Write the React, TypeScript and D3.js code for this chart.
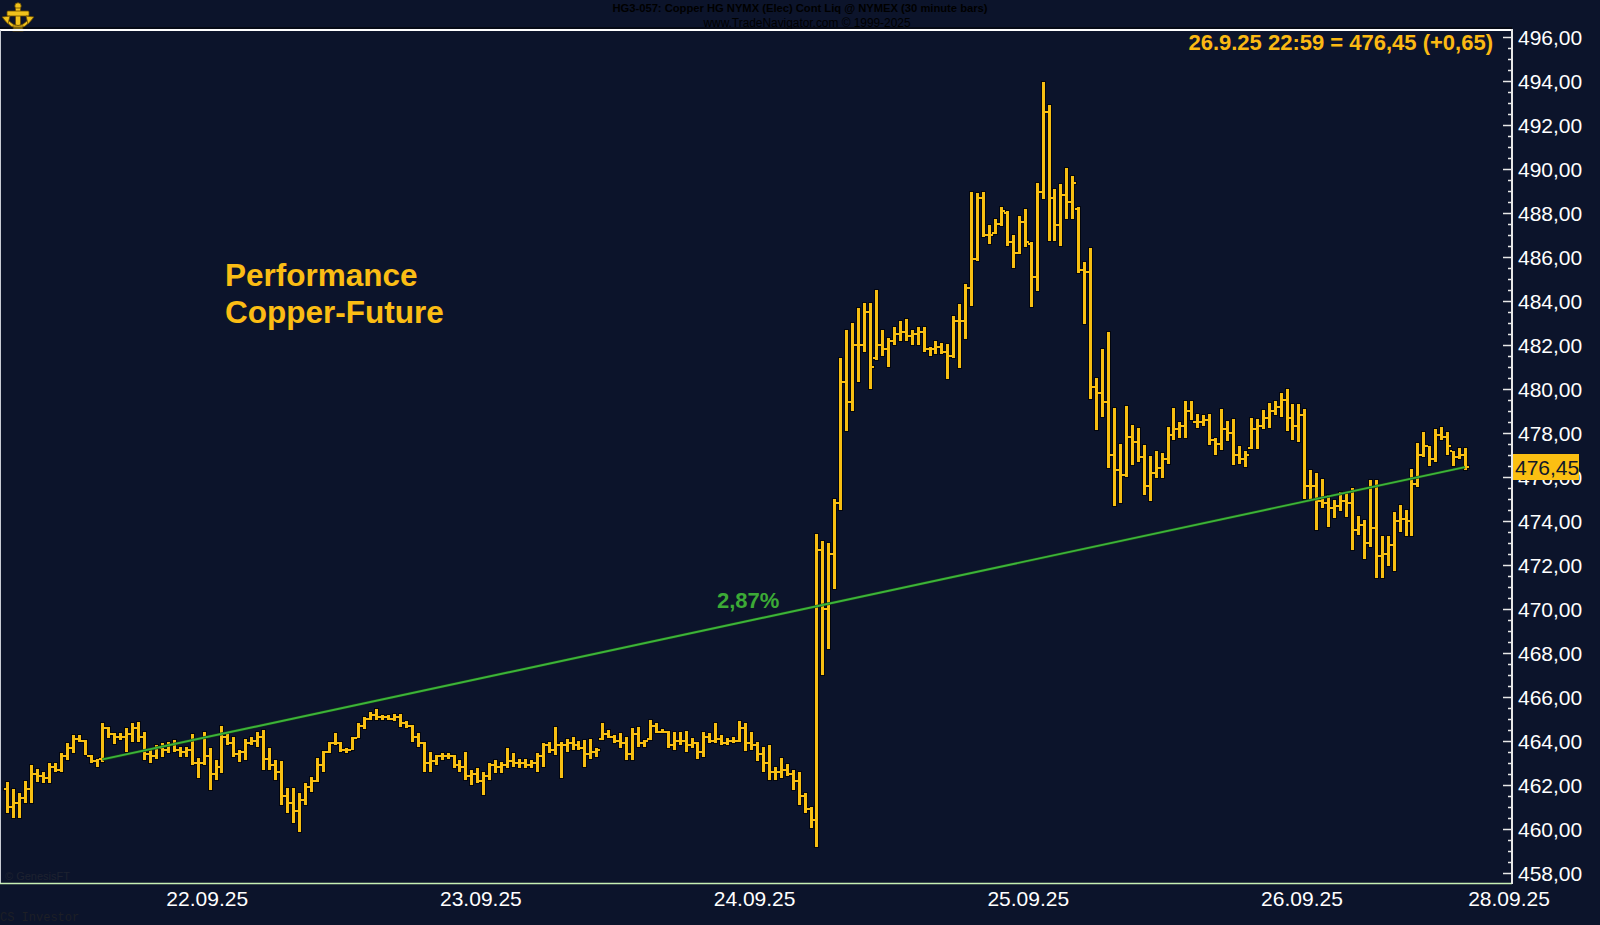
import React from "react";
import * as d3 from "d3";

const highs = [
  462.14, 461.8, 461.62, 462.18, 462.91, 462.73, 462.6, 462.98, 462.98, 463.44,
  463.9, 464.27, 464.27, 464.05, 463.36, 463.2, 464.8, 464.65, 464.38, 464.35,
  464.58, 464.8, 464.85, 464.42, 463.59, 463.82, 463.92, 463.97, 464.05, 463.74,
  463.74, 464.32, 463.21, 464.42, 463.67, 463.14, 464.68, 464.35, 464.2, 463.59,
  464.08, 464.2, 464.42, 464.5, 463.67, 463.14, 463.1, 461.85, 461.85, 461.62,
  462.08, 462.38, 463.21, 463.56, 463.97, 464.35, 463.97, 463.67, 464.2, 464.83,
  465.1, 465.3, 465.44, 465.2, 465.2, 465.25, 465.25, 464.9, 464.73, 464.35,
  463.97, 463.51, 463.36, 463.46, 463.46, 463.36, 463.14, 463.51, 462.68, 462.76,
  462.6, 463.02, 463.14, 463.06, 463.67, 463.44, 463.2, 463.2, 463.15, 463.44,
  463.9, 463.97, 464.62, 463.97, 464.08, 464.17, 464.02, 464.05, 464.08, 463.67,
  464.8, 464.5, 464.27, 464.35, 464.2, 464.58, 464.65, 464.05, 464.95, 464.8,
  464.53, 464.47, 464.42, 464.42, 464.47, 464.12, 463.97, 464.42, 464.38, 464.8,
  464.27, 464.12, 464.2, 464.92, 464.83, 464.39, 463.97, 463.74, 463.82, 462.83,
  463.21, 462.95, 462.68, 462.6, 461.62, 461.01, 473.4, 473.1, 473.0, 475.0,
  481.4, 482.7, 483.0, 483.7, 483.9, 483.9, 484.5, 482.7, 482.3, 482.8,
  483.1, 483.2, 482.7, 482.8, 482.8, 481.9, 482.2, 482.1, 482.03, 483.33,
  483.85, 484.76, 488.94, 488.9, 488.94, 487.45, 487.71, 488.26, 488.08, 487.0,
  487.86, 488.17, 486.67, 489.35, 493.94, 492.9, 489.08, 489.3, 490.03, 489.68,
  488.26, 485.79, 486.4, 480.5, 481.8, 482.6, 479.12, 477.5, 479.24, 478.35,
  478.21, 477.45, 476.95, 477.18, 477.1, 478.26, 479.12, 478.51, 479.47, 479.47,
  478.86, 478.8, 478.86, 477.76, 479.08, 478.55, 478.62, 477.41, 477.2, 478.7,
  478.62, 479.05, 479.35, 479.47, 479.8, 480.0, 479.3, 479.3, 479.1, 476.32,
  476.17, 475.91, 475.18, 474.95, 475.33, 475.27, 475.51, 474.24, 474.05, 475.86,
  475.86, 473.33, 473.3, 474.42, 474.73, 474.5, 476.35, 477.53, 478.06, 477.4,
  478.2, 478.26, 478.06, 477.2, 477.3, 477.3,
];

const lows = [
  460.71, 460.49, 460.49, 461.17, 461.17, 462.15, 462.08, 462.08, 462.6, 462.6,
  463.14, 463.44, 463.97, 463.36, 463.01, 462.84, 463.03, 464.12, 463.86, 464.05,
  463.52, 463.97, 463.97, 463.14, 462.98, 463.2, 463.29, 463.44, 463.52, 463.29,
  463.29, 462.91, 462.3, 462.91, 461.77, 462.23, 462.53, 463.82, 463.29, 463.06,
  463.14, 463.82, 463.74, 462.68, 462.68, 462.23, 461.09, 460.71, 460.26, 459.88,
  461.09, 461.7, 462.15, 462.61, 463.44, 463.82, 463.51, 463.44, 463.59, 464.12,
  464.53, 464.95, 464.95, 464.95, 464.95, 464.9, 464.65, 464.6, 463.97, 463.74,
  462.61, 462.61, 462.91, 463.14, 463.2, 462.76, 462.61, 462.23, 462.0, 462.08,
  461.55, 462.23, 462.53, 462.53, 462.76, 462.83, 462.76, 462.76, 462.76, 462.6,
  462.83, 463.44, 463.36, 462.3, 463.51, 463.59, 463.59, 462.8, 463.2, 463.29,
  464.05, 464.12, 463.9, 463.67, 463.14, 463.14, 463.74, 463.74, 464.05, 464.35,
  464.35, 463.67, 463.59, 463.82, 463.51, 463.67, 463.2, 463.29, 463.9, 463.9,
  463.82, 463.82, 463.9, 463.97, 463.56, 463.59, 463.11, 462.61, 462.23, 462.23,
  462.3, 462.41, 461.77, 461.09, 460.71, 460.03, 459.2, 467.0, 468.2, 470.9,
  474.5, 478.1, 479.0, 480.3, 481.7, 480.0, 481.3, 481.5, 481.0, 482.0,
  482.2, 482.2, 482.0, 482.0, 481.7, 481.5, 481.6, 481.6, 480.44, 481.39,
  480.94, 482.26, 483.77, 485.83, 486.9, 486.58, 487.03, 487.42, 486.51, 485.48,
  486.12, 486.44, 483.74, 484.45, 488.64, 486.74, 486.74, 486.51, 487.71, 487.71,
  485.26, 482.95, 479.55, 478.14, 478.74, 476.39, 474.68, 474.8, 476.01, 476.53,
  476.7, 475.18, 474.9, 475.94, 475.94, 476.58, 477.68, 477.79, 477.79, 478.59,
  478.21, 478.3, 477.45, 477.0, 477.23, 477.64, 476.55, 476.6, 476.47, 477.26,
  477.26, 478.2, 478.21, 478.82, 478.74, 478.1, 477.7, 477.6, 474.98, 474.98,
  473.59, 474.58, 473.74, 474.15, 474.45, 474.2, 472.68, 473.36, 472.27, 472.83,
  471.39, 471.39, 471.97, 471.74, 473.51, 473.3, 473.3, 475.53, 476.92, 476.5,
  476.7, 477.7, 477.0, 476.5, 476.8, 476.3,
];

const opens = [
  461.8, 461.0, 461.2, 461.4, 461.8, 462.5, 462.4, 462.3, 462.8, 462.7,
  463.3, 463.7, 464.1, 464.0, 463.3, 463.1, 463.16, 464.6, 464.3, 464.2,
  464.2, 464.3, 464.6, 464.2, 463.4, 463.3, 463.7, 463.6, 463.8, 463.6,
  463.5, 463.6, 463.0, 463.0, 463.3, 462.5, 462.8, 464.2, 463.9, 463.4,
  463.5, 463.9, 464.0, 464.2, 463.2, 462.9, 462.6, 461.5, 461.2, 460.8,
  461.3, 461.9, 462.2, 462.9, 463.5, 463.9, 463.9, 463.6, 463.6, 464.15,
  464.7, 465.0, 465.2, 465.1, 465.1, 465.0, 465.1, 464.8, 464.7, 464.2,
  463.9, 463.0, 463.1, 463.3, 463.3, 463.3, 462.9, 462.8, 462.4, 462.5,
  462.2, 462.4, 462.9, 462.8, 462.9, 463.1, 463.0, 463.0, 462.9, 463.0,
  463.3, 463.8, 463.6, 463.8, 463.8, 463.9, 463.8, 463.7, 463.4, 463.5,
  464.1, 464.3, 464.2, 464.0, 463.9, 463.4, 464.3, 463.9, 464.1, 464.7,
  464.4, 464.4, 463.8, 464.0, 464.0, 463.8, 463.9, 463.5, 464.2, 464.0,
  464.1, 463.9, 464.0, 464.0, 464.6, 463.9, 463.8, 463.4, 463.0, 462.6,
  462.6, 462.7, 462.5, 462.2, 461.5, 460.9, 460.4, 472.7, 470.0, 472.5,
  474.8, 480.3, 479.4, 482.0, 482.0, 483.5, 481.4, 482.0, 481.8, 482.2,
  482.5, 482.6, 482.4, 482.5, 482.6, 481.8, 481.8, 481.9, 481.7, 481.5,
  483.1, 483.1, 484.6, 485.9, 488.7, 487.0, 487.1, 487.5, 488.0, 486.7,
  486.2, 487.6, 486.6, 485.1, 488.97, 492.6, 488.7, 487.45, 488.8, 488.5,
  488.2, 485.4, 485.3, 480.1, 479.8, 479.4, 477.0, 476.3, 476.1, 477.8,
  477.6, 476.9, 475.6, 476.2, 476.4, 476.8, 477.9, 478.2, 478.3, 479.0,
  478.5, 478.5, 478.6, 477.7, 477.5, 478.2, 478.0, 477.0, 476.8, 477.3,
  478.2, 478.3, 478.7, 479.0, 479.2, 479.5, 478.7, 478.3, 478.8, 475.6,
  475.6, 474.9, 474.8, 474.6, 474.7, 474.9, 474.8, 473.6, 473.8, 473.0,
  473.7, 472.4, 472.5, 472.9, 474.0, 474.1, 474.0, 475.7, 477.0, 477.4,
  476.8, 477.9, 477.8, 477.2, 476.9, 477.0,
];

const closes = [
  461.0, 461.2, 461.4, 461.8, 462.5, 462.4, 462.3, 462.8, 462.7, 463.3,
  463.7, 464.1, 464.0, 463.3, 463.1, 463.16, 464.6, 464.3, 464.2, 464.2,
  464.3, 464.6, 464.2, 463.4, 463.3, 463.7, 463.6, 463.8, 463.6, 463.5,
  463.6, 463.0, 463.0, 463.3, 462.5, 462.8, 464.2, 463.9, 463.4, 463.5,
  463.9, 464.0, 464.2, 463.2, 462.9, 462.6, 461.5, 461.2, 460.8, 461.3,
  461.9, 462.2, 462.9, 463.5, 463.9, 463.9, 463.6, 463.6, 464.15, 464.7,
  465.0, 465.2, 465.1, 465.1, 465.0, 465.1, 464.8, 464.7, 464.2, 463.9,
  463.0, 463.1, 463.3, 463.3, 463.3, 462.9, 462.8, 462.4, 462.5, 462.2,
  462.4, 462.9, 462.8, 462.9, 463.1, 463.0, 463.0, 462.9, 463.0, 463.3,
  463.8, 463.6, 463.8, 463.8, 463.9, 463.8, 463.7, 463.4, 463.5, 463.6,
  464.3, 464.2, 464.0, 463.9, 463.4, 464.3, 463.9, 464.0, 464.7, 464.4,
  464.4, 463.8, 464.0, 464.0, 463.8, 463.9, 463.5, 464.2, 464.0, 464.1,
  463.9, 464.0, 464.0, 464.6, 463.9, 463.8, 463.4, 463.0, 462.6, 462.6,
  462.7, 462.5, 462.2, 461.5, 460.9, 460.4, 472.7, 470.0, 472.5, 474.8,
  480.3, 479.4, 482.0, 482.0, 483.5, 481.0, 482.0, 481.8, 482.2, 482.5,
  482.6, 482.4, 482.5, 482.6, 481.8, 481.8, 481.9, 481.7, 481.5, 483.1,
  483.1, 484.6, 485.9, 488.7, 487.0, 487.0, 487.5, 488.1, 486.7, 486.2,
  487.6, 486.7, 485.1, 488.97, 492.6, 488.7, 487.45, 488.8, 488.5, 489.35,
  485.4, 485.3, 480.1, 479.8, 479.4, 477.0, 476.3, 476.1, 477.8, 477.6,
  476.9, 475.6, 476.2, 476.4, 476.8, 477.9, 478.2, 478.3, 479.0, 478.5,
  478.5, 478.6, 477.7, 477.5, 478.2, 478.0, 477.0, 476.8, 477.0, 478.2,
  478.3, 478.7, 479.0, 479.2, 479.5, 478.7, 478.3, 478.8, 475.6, 475.6,
  474.9, 474.8, 474.6, 474.7, 474.9, 474.8, 473.6, 473.8, 473.0, 473.7,
  472.4, 472.5, 472.9, 474.0, 474.1, 474.0, 475.7, 477.0, 477.4, 476.8,
  477.9, 477.8, 477.4, 476.9, 477.0, 476.45,
];

const priceTicks = [458, 460, 462, 464, 466, 468, 470, 472, 474, 476, 478, 480, 482, 484, 486, 488, 490, 492, 494, 496];
const dateLabels = ["22.09.25", "23.09.25", "24.09.25", "25.09.25", "26.09.25", "28.09.25"];
const datePositions = [33.6, 79.6, 125.6, 171.6, 217.6, 252.4];
const trendIndex = [16, 245];
const trendValues = [463.16, 476.45];
const lastValue = 476.45;
const lastLabel = "26.9.25 22:59 = 476,45 (+0,65)";
const perfLabel = "2,87%";

const BG = "#0c142b";
const GOLD = "#f8bf12";
const DARK = "#03060e";
const FONT = "'Liberation Sans', Arial, sans-serif";

const fmt = (v: number) => v.toFixed(2).replace(".", ",");

export default function App() {
  const W = 1600;
  const H = 925;
  const x = d3.scaleLinear().domain([0, 245]).range([7.3, 1465]);
  const y = d3.scaleLinear().domain([458, 496]).range([873, 37]);
  const axisX = 1512;
  const minorTicks = d3.range(458, 496.01, 0.5);

  const bars = highs.map((h, i) => ({
    px: Math.round(x(i)),
    yh: Math.round(y(h)),
    yl: Math.round(y(lows[i])),
    yo: Math.round(y(opens[i])),
    yc: Math.round(y(closes[i])),
  }));

  return (
    <svg width={W} height={H} style={{ position: "absolute", left: 0, top: 0, display: "block" }}>
      <rect x={0} y={0} width={W} height={H} fill={BG} />

      {/* header */}
      <text x={800} y={8} fontFamily={FONT} fontSize={11} fontWeight="bold" fill="#000" textAnchor="middle" dominantBaseline="central" textLength={375} lengthAdjust="spacingAndGlyphs">
        HG3-057:  Copper HG NYMX (Elec) Cont Liq @ NYMEX  (30 minute bars)
      </text>
      <text x={807} y={22.5} fontFamily={FONT} fontSize={12} fill="#000" textAnchor="middle" dominantBaseline="central" textLength={207} lengthAdjust="spacingAndGlyphs">
        www.TradeNavigator.com © 1999-2025
      </text>

      {/* logo */}
      <g stroke="#6b4d00" strokeWidth={0.8} fill="#f0c21c">
        <circle cx={18} cy={6} r={3.2} />
        <rect x={15.5} y={8} width={5} height={21} />
        <rect x={7} y={11} width={22} height={5} rx={1} />
        <path d="M4,19 Q18,38 32,19 L28,20 Q18,31 8,20 Z" />
        <path d="M2,17 L10,16 L8,24 Z" />
        <path d="M34,17 L26,16 L28,24 Z" />
        <rect x={13} y={26} width={10} height={5} />
      </g>

      {/* frame */}
      <line x1={0} y1={28} x2={axisX} y2={28} stroke="#000" strokeWidth={1} />
      <line x1={0} y1={30} x2={axisX + 1} y2={30} stroke="#ffffff" strokeWidth={2} />
      <line x1={0.5} y1={30} x2={0.5} y2={884} stroke="#c9ccd4" strokeWidth={1} />
      <line x1={0} y1={883.5} x2={axisX} y2={883.5} stroke="#c8efb4" strokeWidth={1.5} />
      <line x1={axisX} y1={29} x2={axisX} y2={884} stroke="#e8e8e8" strokeWidth={2} />

      {/* y ticks */}
      {minorTicks.map((v) => {
        const major = Math.abs(v - Math.round(v / 2) * 2) < 1e-6;
        return (
          <line key={"t" + v} x1={axisX - (major ? 9 : 4)} x2={axisX} y1={Math.round(y(v)) + 0.5} y2={Math.round(y(v)) + 0.5} stroke="#e8e8e8" strokeWidth={1.5} />
        );
      })}
      {priceTicks.map((v) => (
        <text key={"l" + v} x={axisX + 6} y={y(v)} fontFamily={FONT} fontSize={21} fill="#ffffff" dominantBaseline="central">
          {fmt(v)}
        </text>
      ))}

      {/* x labels */}
      {dateLabels.map((d, i) => (
        <text key={d} x={x(datePositions[i])} y={898} fontFamily={FONT} fontSize={21} fill="#ffffff" textAnchor="middle" dominantBaseline="central">
          {d}
        </text>
      ))}

      {/* bars outline */}
      <g fill={DARK}>
        {bars.map((b, i) => (
          <g key={"o" + i}>
            <rect x={b.px - 2} y={b.yh - 1} width={5} height={b.yl - b.yh + 2} />
            <rect x={b.px - 4} y={b.yo - 2} width={4} height={4} />
            <rect x={b.px + 1} y={b.yc - 2} width={4} height={4} />
          </g>
        ))}
      </g>
      <g fill={GOLD}>
        {bars.map((b, i) => (
          <g key={"g" + i}>
            <rect x={b.px - 1} y={b.yh} width={3} height={Math.max(1, b.yl - b.yh)} />
            <rect x={b.px - 3} y={b.yo - 1} width={2} height={2} />
            <rect x={b.px + 2} y={b.yc - 1} width={2} height={2} />
          </g>
        ))}
      </g>

      {/* trend line */}
      <line x1={x(trendIndex[0])} y1={y(trendValues[0])} x2={x(trendIndex[1])} y2={y(trendValues[1])} stroke="#17401a" strokeWidth={3} />
      <line x1={x(trendIndex[0])} y1={y(trendValues[0])} x2={x(trendIndex[1])} y2={y(trendValues[1])} stroke="#3cb43a" strokeWidth={1.8} />
      <text x={717} y={600} fontFamily={FONT} fontSize={22} fontWeight="bold" fill="#3caa36" dominantBaseline="central">
        {perfLabel}
      </text>

      {/* titles */}
      <text x={225} y={286} fontFamily={FONT} fontSize={31.5} fontWeight="bold" fill="#fbbd14">Performance</text>
      <text x={225} y={323} fontFamily={FONT} fontSize={31.5} fontWeight="bold" fill="#fbbd14">Copper-Future</text>

      <text x={1493} y={42} fontFamily={FONT} fontSize={22} fontWeight="bold" fill="#fbb913" textAnchor="end" dominantBaseline="central">
        {lastLabel}
      </text>

      {/* price box */}
      <rect x={axisX + 1} y={Math.round(y(lastValue)) - 13} width={66} height={26} fill="#fbbf12" />
      <text x={axisX + 3} y={y(lastValue)} fontFamily={FONT} fontSize={21} fill="#10182a" dominantBaseline="central">
        {fmt(lastValue)}
      </text>

      {/* footers */}
      <text x={5} y={876} fontFamily={FONT} fontSize={11} fill="#1e2230" dominantBaseline="central">© GenesisFT</text>
      <text x={0} y={918} fontFamily="'Liberation Mono', monospace" fontSize={12} fill="#1d1f26" dominantBaseline="central">CS Investor</text>
    </svg>
  );
}
